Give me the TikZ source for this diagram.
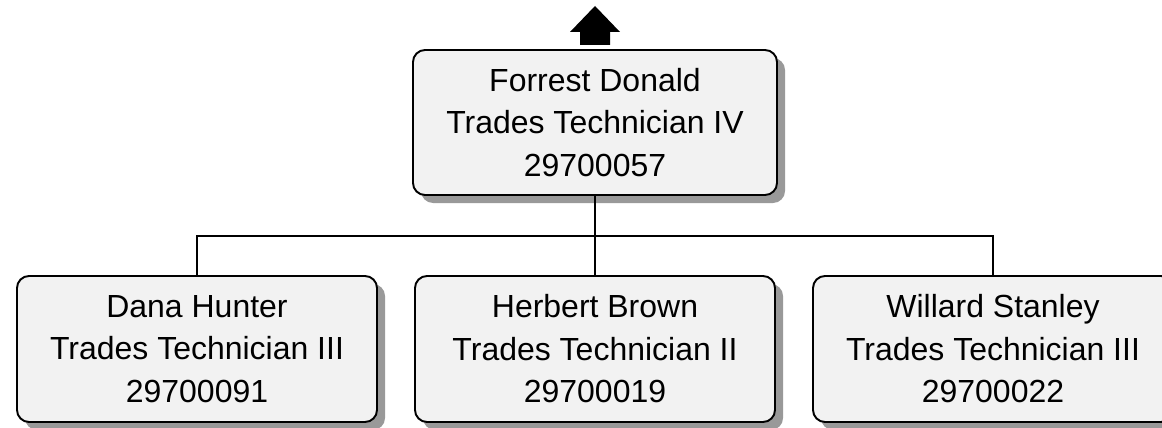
\documentclass[tikz,border=0pt]{standalone}
\usepackage{fontspec}
\setmainfont{Liberation Sans}
\usetikzlibrary{shadows}

\begin{document}
\begin{tikzpicture}
\tikzset{
  person/.style={draw, line width=1.1pt, rounded corners=0.24cm, fill=black!5,
    minimum width=7.2cm, minimum height=2.92cm, inner sep=0pt, align=center,
    font=\fontsize{18.2}{24.2}\selectfont,
    drop shadow={shadow xshift=0.16cm, shadow yshift=-0.16cm, fill=black!40, opacity=1}},
  link/.style={line width=0.8pt}
}
\useasboundingbox (0,0) rectangle (23.24,8.54); % Page size

% Manager
\node[person, minimum width=7.28cm, minimum height=2.9cm] (forrest) at (11.9,6.09) {Forrest Donald\\Trades Technician IV\\29700057};

% Up arrow
\fill (11.6,7.64) -- (11.6,7.9) -- (11.4,7.9) -- (11.9,8.42) -- (12.4,7.9) -- (12.2,7.9) -- (12.2,7.64) -- cycle; % Block arrow above manager

% Staff
\node[person] (dana) at (3.94,1.56) {Dana Hunter\\Trades Technician III\\29700091};
\node[person] (herbert) at (11.9,1.56) {Herbert Brown\\Trades Technician II\\29700019};
\node[person] (willard) at (19.86,1.56) {Willard Stanley\\Trades Technician III\\29700022};

% Connectors
\coordinate (bar) at (11.9,3.82); % Horizontal bar
\draw[link] (forrest.south) -- (bar);
\draw[link] (dana.north) |- (bar) -| (willard.north);
\draw[link] (bar) -- (herbert.north);

\end{tikzpicture}
\end{document}
